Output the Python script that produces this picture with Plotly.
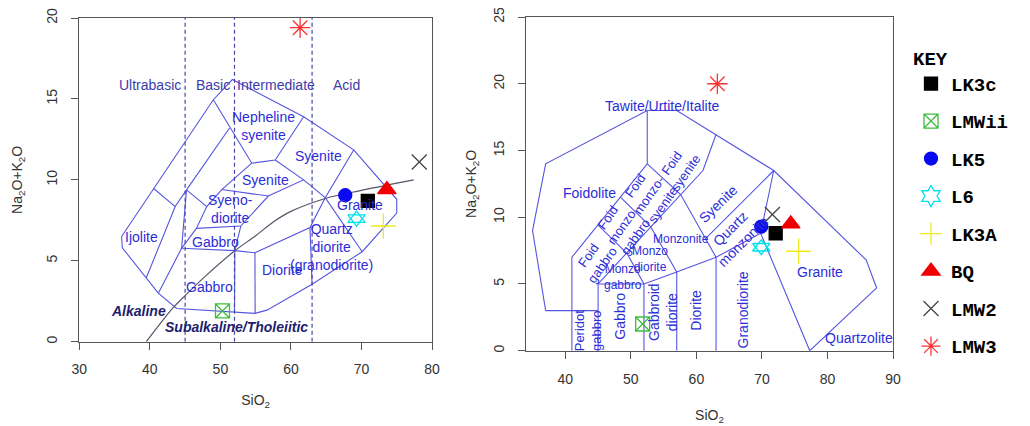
import plotly.graph_objects as go

# ---------------- sample data ----------------
samples = ["LK3c", "LMWii", "LK5", "L6", "LK3A", "BQ", "LMW2", "LMW3"]
# left diagram (Cox et al. 1979, plutonic)
sio2_cox = [70.9, 50.3, 67.7, 69.3, 73.1, 73.6, 78.2, 61.3]
alk_cox = [8.7, 1.9, 9.05, 7.6, 7.15, 9.4, 11.1, 19.4]
# right diagram (Middlemost 1994, plutonic)
sio2_mid = [72.1, 51.8, 69.9, 69.9, 75.6, 74.4, 71.6, 63.2]
alk_mid = [8.8, 2.0, 9.3, 7.75, 7.45, 9.5, 10.2, 20.0]

# ---------------- ticks ----------------
cox_xticks = [30, 40, 50, 60, 70, 80]
cox_yticks = [0, 5, 10, 15, 20]
mid_xticks = [40, 50, 60, 70, 80, 90]
mid_yticks = [0, 5, 10, 15, 20, 25]

# ---------------- field boundaries (SiO2, Na2O+K2O) ----------------
cox_lines = [
    [(36.0, 6.5), (49.0, 14.95), (51.7, 16.2), (61.8, 13.9), (68.9, 11.85), (75.0, 8.8),
     (75.0, 7.95), (70.1, 5.56), (63.0, 3.55), (56.6, 1.95), (54.9, 1.75), (43.8, 2.05),
     (41.2, 3.0), (36.1, 5.8), (36.0, 6.5)],
    [(40.5, 9.48), (43.6, 8.35)],
    [(39.5, 3.95), (43.6, 8.35), (45.2, 9.38), (51.3, 13.2)],
    [(41.2, 3.0), (44.5, 5.77), (45.2, 9.38)],
    [(45.2, 9.38), (48.07, 8.35)],
    [(44.5, 5.77), (46.6, 7.0), (48.07, 8.35), (50.2, 9.4), (54.45, 11.03)],
    [(44.5, 5.77), (52.05, 5.63), (54.9, 5.5)],
    [(52.05, 5.63), (52.0, 1.8)],
    [(54.9, 5.5), (54.93, 1.75)],
    [(54.9, 5.5), (62.7, 7.05), (64.86, 8.9), (68.9, 11.85)],
    [(62.7, 7.05), (63.0, 3.55)],
    [(64.86, 8.9), (70.1, 5.56)],
    [(46.6, 7.0), (52.9, 7.15)],
    [(52.05, 5.63), (52.9, 7.15), (56.8, 9.0), (61.8, 10.0), (64.86, 8.9)],
    [(50.2, 9.4), (56.8, 9.0)],
    [(49.0, 14.95), (54.45, 11.03), (57.77, 11.23), (61.8, 13.9)],
    [(57.77, 11.23), (61.8, 10.0)],
]
cox_divider = [(39.5, 0), (41, 0.85), (43.3, 2.1), (45, 2.85), (48, 4.1), (52, 5.6), (55, 6.55),
               (57.5, 7.4), (60, 8.05), (64.9, 8.85), (70, 9.35), (77.4, 10.0)]
cox_columns = [45, 52, 63]

mid_lines = [
    [(37, 3), (35, 9), (37, 14), (52.5, 18), (57, 18), (63, 16.2), (71.8, 13.5), (85.9, 6.8),
     (87.5, 4.7), (77.3, 0)],
    [(37, 3), (45, 3)],
    [(52.5, 18), (52.5, 14), (48.4, 11.5), (45, 9.4), (41, 7), (41, 0)],
    [(45, 0), (45, 5), (61, 13.5), (63, 16.2)],
    [(45, 9.4), (49.4, 7.3), (52, 5), (52, 0)],
    [(48.4, 11.5), (53, 9.3), (57, 5.9), (57, 0)],
    [(52.5, 14), (57.6, 11.7), (63, 7), (63, 0)],
    [(45, 5), (52, 5), (57, 5.9), (63, 7), (69.8, 8.8), (77.3, 0)],
    [(61.4, 8.4), (71.8, 13.5), (69.8, 8.8)],
]

# ---------------- field labels (text, SiO2, alkali, angle) ----------------
cox_labels = [
    ("Nepheline<br>syenite", 56.1, 13.35, 0),
    ("Syenite", 63.9, 11.5, 0),
    ("Syenite", 56.35, 10.0, 0),
    ("Syeno-<br>diorite", 51.4, 8.2, 0),
    ("Ijolite", 38.85, 6.5, 0),
    ("Gabbro", 49.25, 6.15, 0),
    ("Gabbro", 48.45, 3.4, 0),
    ("Diorite", 58.85, 4.43, 0),
    ("Quartz<br>diorite<br>(granodiorite)", 65.7, 5.85, 0),
    ("Granite", 69.8, 8.45, 0),
]
cox_columns_text = [("Ultrabasic", 40.0, 15.88), ("Basic", 49.0, 15.88),
                    ("Intermediate", 57.9, 15.88), ("Acid", 67.9, 15.88)]
cox_series_text = [("Alkaline", 38.4, 1.92), ("Subalkaline/Tholeiitic", 52.3, 0.93)]

mid_labels = [
    ("Tawite/Urtite/Italite", 54.9, 18.35, 0, 14),
    ("Foidolite", 43.7, 11.8, 0, 14),
    ("Foid<br>syenite", 57.3, 13.7, -55, 13),
    ("Foid<br>monzo-<br>syenite", 52.8, 11.6, -55, 13),
    ("Foid<br>monzo<br>gabbro", 48.6, 9.2, -55, 13),
    ("Foid<br>gabbro", 44.6, 6.8, -55, 13),
    ("Monzonite", 57.7, 8.37, 0, 12),
    ("Monzo<br>diorite", 52.86, 6.88, 0, 12),
    ("Monzo<br>gabbro", 48.78, 5.51, 0, 12),
    ("Syenite", 63.3, 10.97, -44, 14),
    ("Quartz<br>monzonite", 66.1, 8.7, -45, 14),
    ("Granite", 78.9, 5.88, 0, 14),
    ("Quartzolite", 84.75, 0.92, 0, 14),
    ("Peridot<br>gabbro", 43.4, 1.5, -90, 13),
    ("Gabbro", 48.3, 2.6, -90, 14),
    ("Gabbroid<br>diorite", 54.9, 2.9, -90, 14),
    ("Diorite", 60.0, 3.03, -90, 14),
    ("Granodiorite", 67.14, 3.03, -90, 14),
]

# ---------------- styles ----------------
styles = {
    "LK3c": dict(symbol="square", color="black", size=13),
    "LMWii": dict(symbol="square-x-open", color="rgb(60,190,60)", size=14),
    "LK5": dict(symbol="circle", color="rgb(10,10,240)", size=13),
    "L6": dict(symbol="hexagram-open", color="rgb(0,225,235)", size=17),
    "LK3A": dict(symbol="cross-thin-open", color="rgb(240,235,30)", size=18),
    "BQ": dict(symbol="triangle-up", color="rgb(240,0,0)", size=16),
    "LMW2": dict(symbol="x-thin-open", color="rgb(70,70,70)", size=15),
    "LMW3": dict(symbol="asterisk-open", color="rgb(255,50,50)", size=17),
}
FIELD = "rgb(85,85,225)"
LABEL = "rgb(45,45,215)"
FONT = "Liberation Sans"
W, H = 1030, 426
OFF = 8  # page body margin of the html page


def xdom(a, b):
    return [(a - OFF) / W, (b - OFF) / W]


def ydom(top, bottom):
    return [(H - (bottom - OFF)) / H, (H - (top - OFF)) / H]


def polyline_xy(lines):
    xs, ys = [], []
    for ln in lines:
        for x, y in ln:
            xs.append(x)
            ys.append(y)
        xs.append(None)
        ys.append(None)
    return xs, ys


fig = go.Figure()

# left diagram field lines
cx, cy = polyline_xy(cox_lines)
fig.add_trace(go.Scatter(x=cx, y=cy, mode="lines", line=dict(color=FIELD, width=1.1),
                         showlegend=False, hoverinfo="skip", xaxis="x", yaxis="y"))
dx, dy = [], []
for c in cox_columns:
    dx += [c, c, None]
    dy += [0, 20, None]
fig.add_trace(go.Scatter(x=dx, y=dy, mode="lines", line=dict(color="rgb(70,70,170)", width=1.2, dash="4px,3px"),
                         showlegend=False, hoverinfo="skip", xaxis="x", yaxis="y"))
fig.add_trace(go.Scatter(x=[p[0] for p in cox_divider], y=[p[1] for p in cox_divider], mode="lines",
                         line=dict(color="rgb(85,85,105)", width=1.2, shape="spline"),
                         showlegend=False, hoverinfo="skip", xaxis="x", yaxis="y"))

# right diagram field lines
mx, my = polyline_xy(mid_lines)
fig.add_trace(go.Scatter(x=mx, y=my, mode="lines", line=dict(color=FIELD, width=1.1),
                         showlegend=False, hoverinfo="skip", xaxis="x2", yaxis="y2"))

# samples
for i, s in enumerate(samples):
    st = styles[s]
    mk = dict(symbol=st["symbol"], color=st["color"], size=st["size"],
              line=dict(color=st["color"], width=1.3))
    if s == "L6":
        # legend-only entry, the plotted mark is two overlapping open triangles
        fig.add_trace(go.Scatter(x=[None], y=[None], mode="markers", marker=mk,
                                 name="<b>" + s + "</b>", legendgroup=s, showlegend=True,
                                 xaxis="x", yaxis="y"))
        for sym in ["triangle-up-open", "triangle-down-open"]:
            tk = dict(symbol=sym, color=st["color"], size=15, line=dict(color=st["color"], width=1.3))
            fig.add_trace(go.Scatter(x=[sio2_cox[i]], y=[alk_cox[i]], mode="markers", marker=tk,
                                     legendgroup=s, showlegend=False, xaxis="x", yaxis="y"))
            fig.add_trace(go.Scatter(x=[sio2_mid[i]], y=[alk_mid[i]], mode="markers", marker=tk,
                                     legendgroup=s, showlegend=False, xaxis="x2", yaxis="y2"))
        continue
    fig.add_trace(go.Scatter(x=[sio2_cox[i]], y=[alk_cox[i]], mode="markers", marker=mk,
                             name="<b>" + s + "</b>", legendgroup=s, showlegend=True,
                             xaxis="x", yaxis="y"))
    fig.add_trace(go.Scatter(x=[sio2_mid[i]], y=[alk_mid[i]], mode="markers", marker=mk,
                             name="<b>" + s + "</b>", legendgroup=s, showlegend=False,
                             xaxis="x2", yaxis="y2"))

ann = []
for t, x, y, a in cox_labels:
    ann.append(dict(text=t, x=x, y=y, xref="x", yref="y", showarrow=False, textangle=a,
                    font=dict(family=FONT, size=14, color=LABEL)))
for t, x, y in cox_columns_text:
    ann.append(dict(text=t, x=x, y=y, xref="x", yref="y", showarrow=False,
                    font=dict(family=FONT, size=14, color="rgb(60,60,170)")))
for t, x, y in cox_series_text:
    ann.append(dict(text="<b><i>" + t + "</i></b>", x=x, y=y, xref="x", yref="y", showarrow=False,
                    font=dict(family=FONT, size=14, color="rgb(30,30,110)")))
for t, x, y, a, fs in mid_labels:
    ann.append(dict(text=t, x=x, y=y, xref="x2", yref="y2", showarrow=False, textangle=a,
                    font=dict(family=FONT, size=fs, color=LABEL)))

axis_common = dict(showline=True, mirror=True, linecolor="#555", linewidth=1, ticks="outside",
                   ticklen=7, tickcolor="#555", showgrid=False, zeroline=False, automargin=False,
                   ticklabeloverflow="allow",
                   tickfont=dict(family=FONT, size=14, color="#333"),
                   title_font=dict(family=FONT, size=14, color="#333"))

fig.update_layout(
    width=W, height=H, margin=dict(l=0, r=0, t=0, b=0),
    paper_bgcolor="white", plot_bgcolor="white",
    annotations=ann,
    xaxis=dict(axis_common, domain=xdom(79.3, 432), range=[30, 80], tickvals=cox_xticks,
               ticklabelstandoff=7, title=dict(text="SiO<sub>2</sub>", standoff=19), anchor="y"),
    yaxis=dict(axis_common, domain=ydom(18, 341.7), range=[0, 20], tickvals=cox_yticks,
               tickangle=-90, ticklabelstandoff=9,
               title=dict(text="Na<sub>2</sub>O+K<sub>2</sub>O", standoff=17), anchor="x"),
    xaxis2=dict(axis_common, domain=xdom(526, 893), range=[34, 90], tickvals=mid_xticks,
                ticklabelstandoff=8, title=dict(text="SiO<sub>2</sub>", standoff=24), anchor="y2"),
    yaxis2=dict(axis_common, domain=ydom(17, 350.7), range=[0, 25], tickvals=mid_yticks,
                tickangle=-90, ticklabelstandoff=8,
                title=dict(text="Na<sub>2</sub>O+K<sub>2</sub>O", standoff=11), anchor="x2"),
    legend=dict(x=903 / W, y=1 - 32 / H, xanchor="left", yanchor="top",
                font=dict(family="Liberation Mono", size=19, color="black"),
                title=dict(text="<b>KEY</b>", font=dict(family="Liberation Mono", size=19, color="black")),
                traceorder="grouped", tracegroupgap=9.8, bgcolor="rgba(0,0,0,0)", itemwidth=30),
)

fig.write_html("out.html")
